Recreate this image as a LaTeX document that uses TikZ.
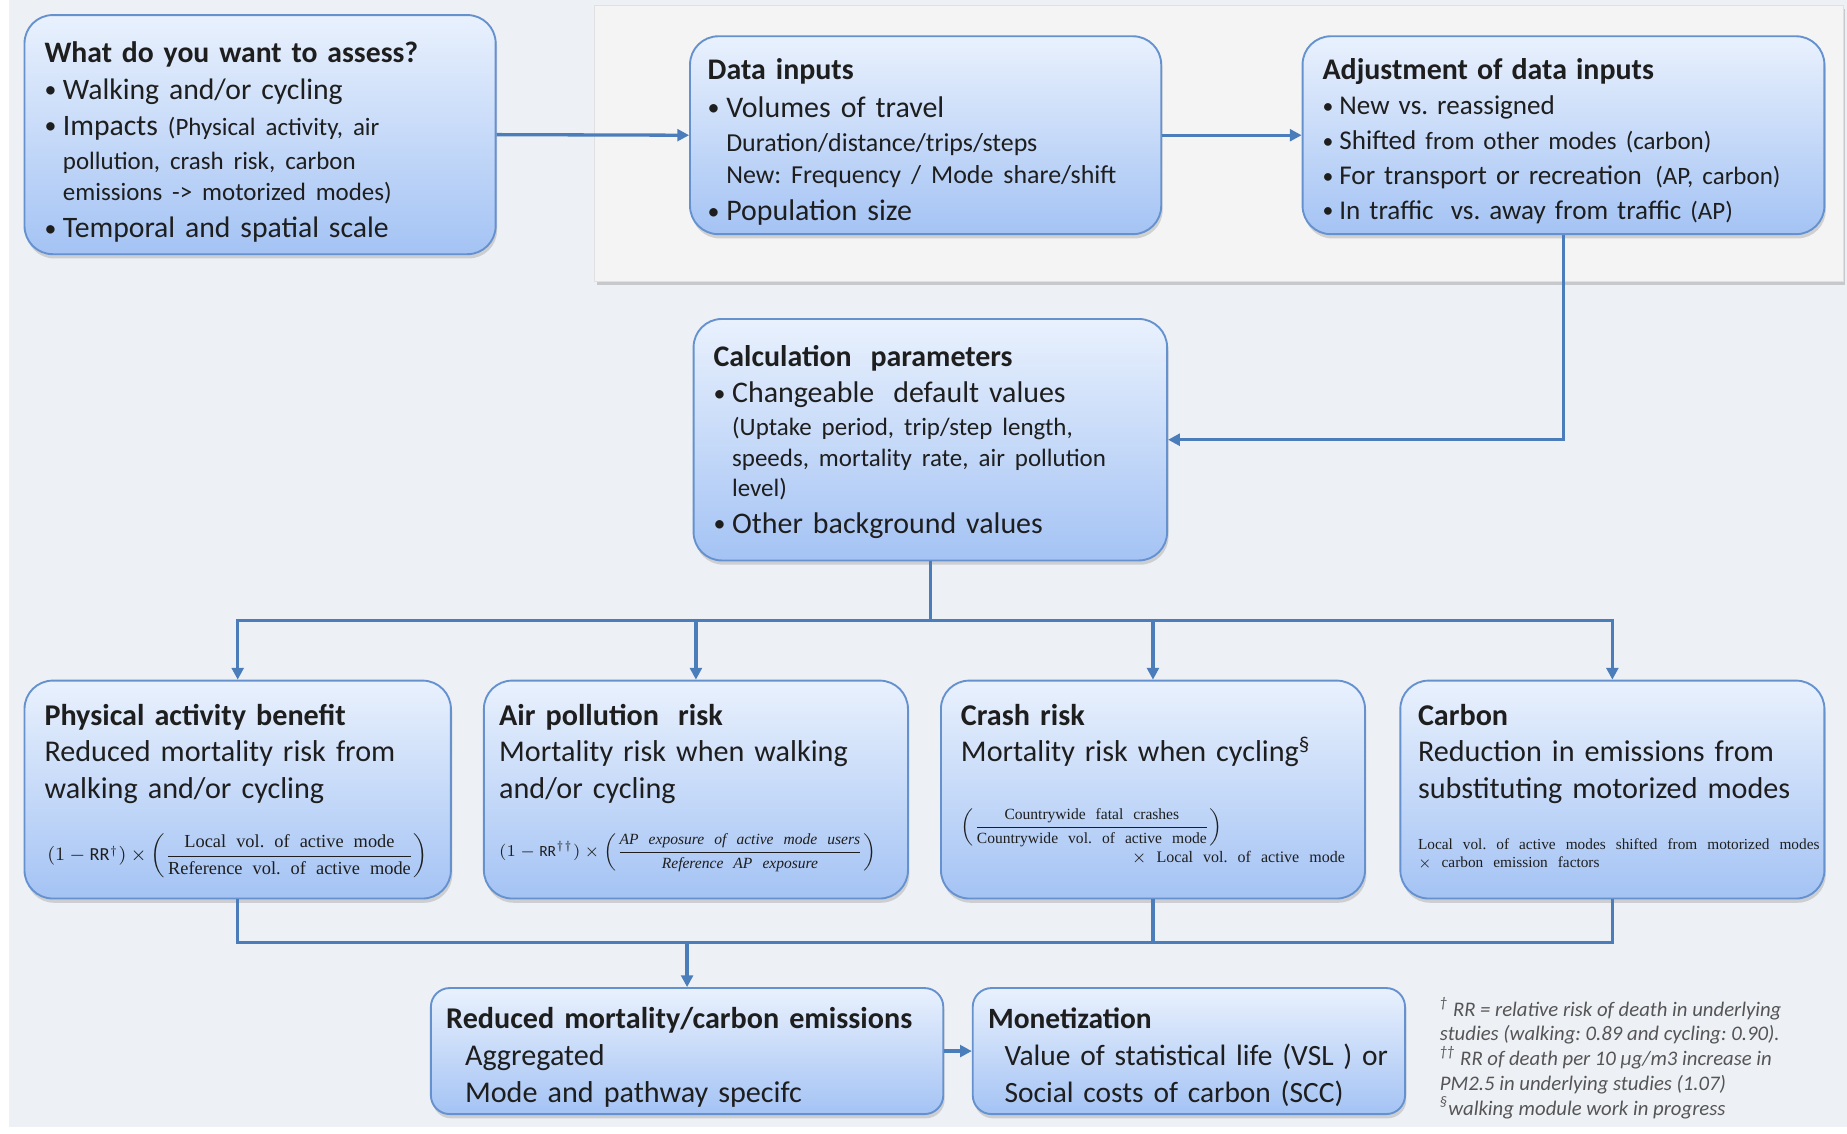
\documentclass[tikz,border=0pt]{standalone}
\usepackage{amsmath}
\usepackage{amssymb}
\usepackage{xcolor}
\usepackage{graphicx}
\usepackage{fontspec}
\setmainfont{Carlito}
\newfontfamily\formfont[WordSpace=0.6]{Liberation Serif}
\usepackage{tikz}
\usetikzlibrary{arrows.meta,shadows,calc,positioning}
\frenchspacing

\definecolor{bgcol}{HTML}{EDF0F5}
\definecolor{panelcol}{HTML}{F4F4F4}
\definecolor{boxtop}{HTML}{E9F1FD}
\definecolor{boxbot}{HTML}{A4C3F4}
\definecolor{boxline}{HTML}{6592CF}
\definecolor{linkcol}{HTML}{4A7DBA}
\definecolor{textcol}{HTML}{1E1E1E}
\definecolor{notecol}{HTML}{555555}

\newcommand{\itm}{\makebox[0.62em][l]{\raisebox{0.05em}{\scalebox{0.8}{\textbullet}}}}
\newcommand{\ind}{\hphantom{\itm}}
\newcommand{\sm}{\fontsize{10.6}{12}\selectfont}
\newcommand{\frml}{\formfont\fontsize{7.8}{9}\selectfont}

\begin{document}
\begin{tikzpicture}[
	x=0.5pt, y=-0.5pt,
	box/.style = {shape=rectangle, rounded corners=12pt,
	draw=boxline, line width=0.8pt, align=left, anchor=north west,
	top color=boxtop, bottom color=boxbot, text=textcol,
	inner xsep=8.5pt, inner ysep=0pt,
	drop shadow={opacity=0.3, shadow xshift=0.6pt, shadow yshift=-1.8pt}},
	boxsize/.style n args={3}{text width=#1, text height=#2, text depth=#3},
	link/.style = {-{Triangle[length=5pt,width=5pt]}, draw=linkcol, line width=1.4pt},
	wire/.style = {draw=linkcol, line width=1.4pt}
]
\useasboundingbox (0,0) rectangle (1568,962);
\fill[white] (0,0) rectangle (1568,962);
\fill[bgcol] (8,0) rectangle (1568,957);
\fill[panelcol, draw=black!12, line width=0.4pt,
	drop shadow={opacity=0.35, shadow xshift=0.8pt, shadow yshift=-1.5pt}]
	(505,5) rectangle (1565,239);

\node[box, boxsize={183pt}{20pt}{81.5pt}, font=\fontsize{12.6}{15.8}\selectfont] (assess) at (20,12) {%
	\textbf{What do you want to assess?}\\
	\itm Walking and/or cycling\\[-0.5pt]
	\itm Impacts {\sm (Physical activity, air}\\[-1.5pt]
	\ind{\sm pollution, crash risk, carbon}\\[-2.5pt]
	\ind{\sm emissions -> motorized modes)}\\
	\itm Temporal and spatial scale};
\node[box, boxsize={185pt}{18.5pt}{65.5pt}, inner xsep=7.5pt, font=\fontsize{12.7}{15.8}\selectfont] (inputs) at (585,30) {%
	\textbf{Data inputs}\\
	\itm Volumes of travel\\[-1pt]
	\ind{\fontsize{11}{12}\selectfont Duration/distance/trips/steps}\\[-2.5pt]
	\ind{\fontsize{11}{12}\selectfont New: Frequency / Mode share/shift}\\
	\itm Population size};
\node[box, boxsize={204.5pt}{18.5pt}{65.5pt}, font=\fontsize{11.5}{14.8}\selectfont] (adjust) at (1105,30) {%
	{\fontsize{12.7}{14}\selectfont\textbf{Adjustment of data inputs}}\\
	\itm New vs. reassigned\\
	\itm Shifted {\sm from other modes (carbon)}\\
	\itm For transport or recreation\hspace{0.5em}{\sm (AP, carbon)}\\
	\itm In traffic\hspace{0.3em} vs. away from traffic {\sm (AP)}};
\node[box, boxsize={184pt}{20pt}{82.5pt}, font=\fontsize{12.7}{15.5}\selectfont] (calc) at (588,270) {%
	\textbf{Calculation\hspace{0.3em} parameters}\\
	\itm Changeable\hspace{0.3em} default values\\[-1.5pt]
	\ind{\sm (Uptake period, trip/step length,}\\[-2.5pt]
	\ind{\sm speeds, mortality rate, air pollution}\\[-2.5pt]
	\ind{\sm level)}\\
	\itm Other background values};

\node[box, boxsize={164pt}{19pt}{73.5pt}, font=\fontsize{12.8}{15.5}\selectfont] (pa) at (20,577) {%
	\textbf{Physical activity benefit}\\
	Reduced mortality risk from\\
	walking and/or cycling\\[11pt]
	\makebox[164pt][c]{\frml $(1-\mathrm{RR}^{\dagger})\times\left(\dfrac{\text{Local vol. of active mode}}{\text{Reference vol. of active mode}}\right)$}};
\node[box, boxsize={167pt}{19pt}{73.5pt}, inner xsep=6.5pt, font=\fontsize{12.8}{15.5}\selectfont] (ap) at (410,577) {%
	\textbf{Air pollution\hspace{0.3em} risk}\\
	Mortality risk when walking\\
	and/or cycling\\[9pt]
	{\formfont\fontsize{6.6}{8}\selectfont $(1-\mathrm{RR}^{\dagger\dagger})\times\left(\dfrac{\textit{AP exposure of active mode users}}{\textit{Reference AP exposure}}\right)$}};
\node[box, boxsize={163pt}{19pt}{73.5pt}, font=\fontsize{12.8}{15.5}\selectfont] (crash) at (798,577) {%
	\textbf{Crash risk}\\
	Mortality risk when cycling\textsuperscript{\S}\\[14pt]
	{\formfont\fontsize{6.6}{8}\selectfont $\left(\dfrac{\text{Countrywide fatal crashes}}{\text{Countrywide vol. of active mode}}\right)$}\\[-2.5pt]
	\makebox[163pt][r]{\formfont\fontsize{6.8}{8}\selectfont $\times$ Local vol. of active mode}};
\node[box, boxsize={165pt}{19pt}{73.5pt}, inner xsep=7.5pt, font=\fontsize{12.8}{15.5}\selectfont] (carbon) at (1188,577) {%
	\textbf{Carbon}\\
	Reduction in emissions from\\
	substituting motorized modes\\[6pt]
	\mbox{\formfont\fontsize{6.5}{8}\selectfont Local vol. of active modes shifted from motorized modes}\\[-7.5pt]
	{\formfont\fontsize{6.5}{8}\selectfont $\times$ carbon emission factors}};

\node[box, boxsize={204.5pt}{17pt}{36.5pt}, inner xsep=6.5pt, rounded corners=8pt, font=\fontsize{12.8}{15.8}\selectfont] (reduced) at (365,838) {%
	\textbf{Reduced mortality/carbon emissions}\\
	\hspace*{8pt}Aggregated\\
	\hspace*{8pt}Mode and pathway specifc};
\node[box, boxsize={170.5pt}{17pt}{36.5pt}, inner xsep=6.5pt, rounded corners=8pt, font=\fontsize{12.5}{15.8}\selectfont] (money) at (825,838) {%
	\textbf{Monetization}\\
	\hspace*{7pt}Value of statistical life (VSL ) or\\
	\hspace*{7pt}Social costs of carbon (SCC)};

\node[anchor=north west, inner sep=0pt, align=left, text=notecol,
	font=\fontsize{8.8}{10.5}\selectfont\itshape] (notes) at (1222,846) {%
	\textsuperscript{†} RR = relative risk of death in underlying\\
	studies (walking: 0.89 and cycling: 0.90).\\
	\textsuperscript{††} RR of death per 10 μg/m3 increase in\\
	PM2.5 in underlying studies (1.07)\\
	\textsuperscript{§}walking module work in progress};

\draw[link] (assess.east) -- (inputs.west);
\draw[link] (inputs.east) -- (adjust.west);
\draw[link] (adjust.south) |- (calc.east);
\path (calc.south) ++(0,50) coordinate (bus);
\draw[wire] (calc.south) -- (bus);
\foreach \n in {pa,ap,crash,carbon}
	\draw[link] (bus) -| (\n.north);
\path (reduced.north) ++(0,-38) coordinate (join);
\foreach \n in {pa,crash,carbon}
	\draw[wire] (\n.south) |- (join);
\draw[link] (join) -- (reduced.north);
\draw[link] (reduced.east) -- (money.west);
\end{tikzpicture}
\end{document}
